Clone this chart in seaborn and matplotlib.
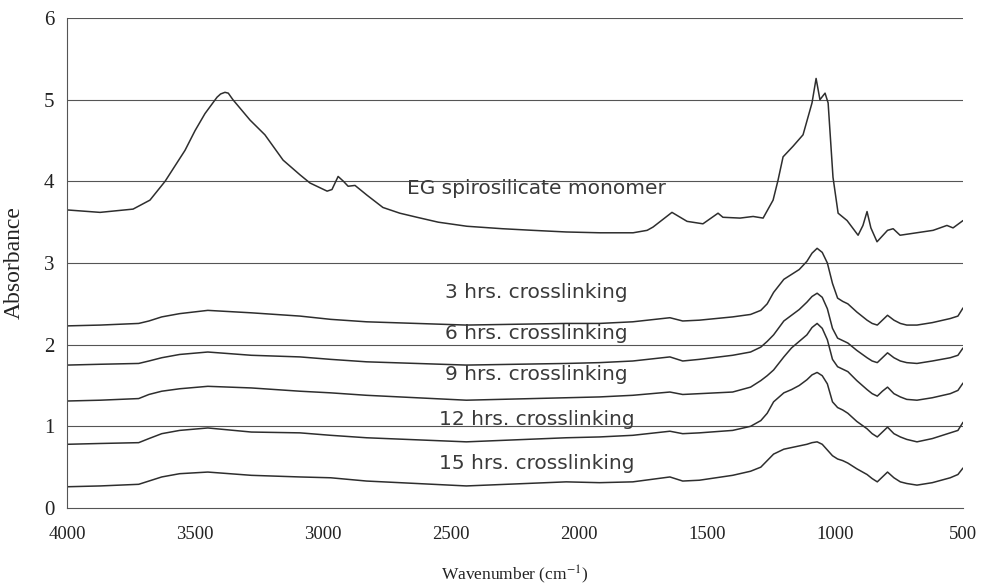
import matplotlib
matplotlib.use("Agg")
import matplotlib.pyplot as plt
import seaborn as sns
import pandas as pd

# ---- data ----
mono_wn = [4000, 3871, 3742, 3676, 3617, 3539, 3500, 3461, 3414, 3400, 3383, 3370, 3352,
           3285, 3227, 3156, 3090, 3051, 2984, 2965, 2941, 2920, 2902, 2875, 2828, 2766,
           2700, 2633, 2550, 2438, 2300, 2180, 2050, 1918, 1789, 1734, 1711, 1637, 1578,
           1516, 1457, 1438, 1371, 1320, 1281, 1242, 1223, 1203, 1164, 1125, 1090, 1074,
           1059, 1039, 1027, 1008, 988, 953, 910, 891, 875, 860, 836, 795, 773, 746, 617,
           563, 539, 500]
mono_abs = [3.65, 3.62, 3.66, 3.77, 4.00, 4.38, 4.62, 4.83, 5.03, 5.07, 5.09, 5.08, 5.00,
            4.75, 4.57, 4.26, 4.08, 3.98, 3.88, 3.90, 4.06, 4.00, 3.94, 3.95, 3.83, 3.68,
            3.61, 3.56, 3.50, 3.45, 3.42, 3.40, 3.38, 3.37, 3.37, 3.40, 3.44, 3.62, 3.51,
            3.48, 3.61, 3.56, 3.55, 3.57, 3.55, 3.77, 4.01, 4.30, 4.43, 4.57, 4.96, 5.26,
            5.00, 5.08, 4.96, 4.05, 3.61, 3.52, 3.34, 3.46, 3.63, 3.43, 3.26, 3.40, 3.42,
            3.34, 3.40, 3.46, 3.43, 3.52]

xl_wn = [4000, 3870, 3720, 3680, 3630, 3560, 3450, 3280, 3090, 2970,
         2830, 2440, 2050, 1920, 1790, 1645, 1595, 1530, 1400, 1330,
         1290, 1265, 1240, 1200, 1170, 1140, 1110, 1090, 1070, 1050,
         1030, 1010, 990, 970, 950, 915, 875, 855, 835, 815,
         795, 770, 745, 720, 680, 620, 550, 520, 500]
abs_3h = [2.23, 2.24, 2.26, 2.29, 2.34, 2.38, 2.42, 2.39, 2.35, 2.31,
          2.28, 2.24, 2.26, 2.26, 2.28, 2.33, 2.29, 2.30, 2.34, 2.37,
          2.42, 2.50, 2.64, 2.80, 2.86, 2.92, 3.02, 3.12, 3.18, 3.13,
          3.00, 2.75, 2.57, 2.53, 2.50, 2.40, 2.30, 2.26, 2.24, 2.30,
          2.36, 2.30, 2.26, 2.24, 2.24, 2.27, 2.32, 2.35, 2.45]
abs_6h = [1.75, 1.76, 1.77, 1.80, 1.84, 1.88, 1.91, 1.87, 1.85, 1.82,
          1.79, 1.75, 1.77, 1.78, 1.80, 1.85, 1.80, 1.82, 1.87, 1.91,
          1.97, 2.04, 2.12, 2.29, 2.36, 2.43, 2.52, 2.59, 2.63, 2.58,
          2.44, 2.20, 2.08, 2.05, 2.02, 1.93, 1.84, 1.80, 1.78, 1.84,
          1.90, 1.84, 1.80, 1.78, 1.77, 1.80, 1.84, 1.87, 1.96]
abs_9h = [1.31, 1.32, 1.34, 1.39, 1.43, 1.46, 1.49, 1.47, 1.43, 1.41,
          1.38, 1.32, 1.35, 1.36, 1.38, 1.42, 1.39, 1.40, 1.42, 1.48,
          1.56, 1.62, 1.69, 1.85, 1.96, 2.04, 2.12, 2.21, 2.26, 2.20,
          2.06, 1.82, 1.73, 1.70, 1.67, 1.56, 1.45, 1.40, 1.37, 1.43,
          1.48, 1.40, 1.36, 1.33, 1.32, 1.35, 1.40, 1.44, 1.53]
abs_12h = [0.78, 0.79, 0.80, 0.85, 0.91, 0.95, 0.98, 0.93, 0.92, 0.89,
           0.86, 0.81, 0.86, 0.87, 0.89, 0.94, 0.91, 0.92, 0.95, 1.00,
           1.07, 1.16, 1.30, 1.41, 1.45, 1.50, 1.57, 1.63, 1.66, 1.62,
           1.52, 1.30, 1.23, 1.20, 1.16, 1.06, 0.97, 0.91, 0.87, 0.93,
           0.99, 0.91, 0.87, 0.84, 0.81, 0.85, 0.92, 0.95, 1.05]
abs_15h = [0.26, 0.27, 0.29, 0.33, 0.38, 0.42, 0.44, 0.40, 0.38, 0.37,
           0.33, 0.27, 0.32, 0.31, 0.32, 0.38, 0.33, 0.34, 0.40, 0.45,
           0.50, 0.58, 0.66, 0.72, 0.74, 0.76, 0.78, 0.80, 0.81, 0.78,
           0.71, 0.64, 0.60, 0.58, 0.55, 0.48, 0.41, 0.36, 0.32, 0.38,
           0.44, 0.37, 0.32, 0.30, 0.28, 0.31, 0.37, 0.41, 0.49]

labels = ["EG spirosilicate monomer", "3 hrs. crosslinking", "6 hrs. crosslinking",
          "9 hrs. crosslinking", "12 hrs. crosslinking", "15 hrs. crosslinking"]
label_y = [3.91, 2.64, 2.14, 1.64, 1.08, 0.54]
label_x = 2165

x_ticks = [4000, 3500, 3000, 2500, 2000, 1500, 1000, 500]
y_ticks = [0, 1, 2, 3, 4, 5, 6]

# ---- plot ----
sns.set_theme(style="white")
plt.rcParams["font.family"] = ["Liberation Serif", "DejaVu Serif"]
plt.rcParams["mathtext.fontset"] = "stix"

fig = plt.figure(figsize=(9.81, 5.87), dpi=100)
ax = fig.add_axes([0.0683, 0.1346, 0.9134, 0.8347])

line_color = "#2e2e2e"
series = [(mono_wn, mono_abs)] + [(xl_wn, a) for a in (abs_3h, abs_6h, abs_9h, abs_12h, abs_15h)]
for wn, ab in series:
    df = pd.DataFrame({"wn": wn, "abs": ab})
    sns.lineplot(data=df, x="wn", y="abs", ax=ax, color=line_color, linewidth=1.1,
                 sort=False, estimator=None)

for yv in y_ticks[1:]:
    ax.axhline(yv, color="#555555", linewidth=0.8, zorder=0)

for txt, yv in zip(labels, label_y):
    ax.text(label_x, yv, txt, ha="center", va="center", fontsize=14.5,
            color="#3a3a3a", family=["DejaVu Sans"])

ax.set_xlim(4000, 500)
ax.set_ylim(0, 6)
ax.set_xticks(x_ticks)
ax.set_yticks(y_ticks)
ax.tick_params(axis="both", which="major", direction="out", length=4, width=0.8,
               color="#555555", labelcolor="#222222")
ax.tick_params(axis="x", labelsize=13.5, pad=9)
ax.tick_params(axis="y", labelsize=15, pad=5)

for side in ("top", "right"):
    ax.spines[side].set_visible(False)
for side in ("left", "bottom"):
    ax.spines[side].set_color("#555555")
    ax.spines[side].set_linewidth(0.8)

ax.set_xlabel("Wavenumber (cm$^{-1}$)", fontsize=12.5, color="#222222", labelpad=15)
ax.set_ylabel("Absorbance", fontsize=17, color="#222222", labelpad=14)

fig.savefig("out.png", dpi=100)
